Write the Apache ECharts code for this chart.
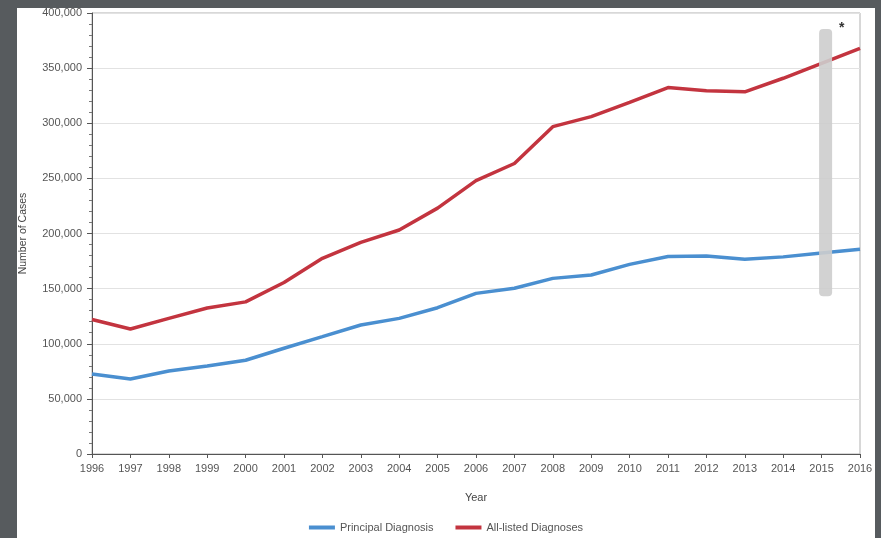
<!DOCTYPE html>
<html>
<head>
<meta charset="utf-8">
<script src="https://cdn.jsdelivr.net/npm/echarts@6/dist/echarts.min.js"></script>
<style>
html,body{margin:0;padding:0;background:#575b5e;width:881px;height:538px;overflow:hidden;}
#chart{position:absolute;left:17px;top:8px;width:858px;height:530px;background:#ffffff;}
</style>
</head>
<body>
<div id="chart"></div>
<script>
var years = ['1996','1997','1998','1999','2000','2001','2002','2003','2004','2005','2006','2007','2008','2009','2010','2011','2012','2013','2014','2015','2016'];
var principalDiagnosis = [72600,68000,75300,79800,85000,95900,106400,117000,123000,132700,145700,150300,159300,162400,172000,179200,179600,176600,178800,182400,185700];
var allListedDiagnoses = [122000,113400,123000,132400,138000,155500,177500,192000,203200,223000,248000,263500,296900,306000,319000,332400,329500,328500,340800,354400,368000];
var yTicks = [0,50000,100000,150000,200000,250000,300000,350000,400000];
var highlightYear = '2015';
var highlightRange = [143000, 385500];
var seriesNames = ['Principal Diagnosis','All-listed Diagnoses'];

var chart = echarts.init(document.getElementById('chart'));
var fmt = function(v){ return v.toLocaleString('en-US'); };
chart.setOption({
  animation:false,
  backgroundColor:'#ffffff',
  textStyle:{fontFamily:'Liberation Sans, Arial, sans-serif'},
  grid:{left:75,top:5,right:15,bottom:84,show:true,borderColor:'#b0b0b0',borderWidth:1,backgroundColor:'transparent',containLabel:false,outerBoundsMode:'none'},
  legend:{
    bottom:0,left:'center',itemWidth:26,itemHeight:4,itemGap:22,
    icon:'rect',
    textStyle:{color:'#555',fontSize:11},
    data:seriesNames
  },
  xAxis:{
    type:'category',data:years,boundaryGap:false,
    name:'Year',nameLocation:'middle',nameGap:38,
    nameTextStyle:{color:'#444',fontSize:11},
    axisLine:{lineStyle:{color:'#555',width:1}},
    axisTick:{show:true,length:4,lineStyle:{color:'#555'}},
    axisLabel:{color:'#555',fontSize:11,margin:9,interval:0},
    splitLine:{show:false}
  },
  yAxis:{
    type:'value',min:yTicks[0],max:yTicks[yTicks.length-1],interval:50000,
    name:'Number of Cases',nameLocation:'middle',nameGap:63,
    nameTextStyle:{color:'#444',fontSize:10.5},
    axisLine:{show:true,lineStyle:{color:'#555',width:1}},
    axisTick:{show:true,length:5,lineStyle:{color:'#555'}},
    minorTick:{show:true,splitNumber:5,length:3,lineStyle:{color:'#777'}},
    axisLabel:{color:'#555',fontSize:11,margin:10,formatter:fmt},
    splitLine:{show:true,lineStyle:{color:'#e2e2e2',width:1}}
  },
  series:[
    {
      name:seriesNames[0],type:'line',data:principalDiagnosis,
      symbol:'none',smooth:false,z:3,
      lineStyle:{color:'#4a8fd0',width:3.5},itemStyle:{color:'#4a8fd0'}
    },
    {
      name:seriesNames[1],type:'line',data:allListedDiagnoses,
      symbol:'none',smooth:false,z:3,
      lineStyle:{color:'#c3343f',width:3.5},itemStyle:{color:'#c3343f'}
    },
    {
      type:'custom',z:5,silent:true,
      data:[[highlightYear,highlightRange[0],highlightRange[1]]],
      renderItem:function(params,api){
        var top = api.coord([api.value(0),api.value(2)]);
        var bot = api.coord([api.value(0),api.value(1)]);
        var w = 13;
        return {type:'rect',shape:{x:top[0]-w/2+4,y:top[1],width:w,height:bot[1]-top[1],r:4},
          style:{fill:'rgba(205,205,205,0.9)'}};
      }
    }
  ],
  graphic:[
    {type:'text',left:822,top:13,style:{text:'*',fill:'#333',fontSize:14,fontWeight:'bold'}}
  ]
});
</script>
</body>
</html>
